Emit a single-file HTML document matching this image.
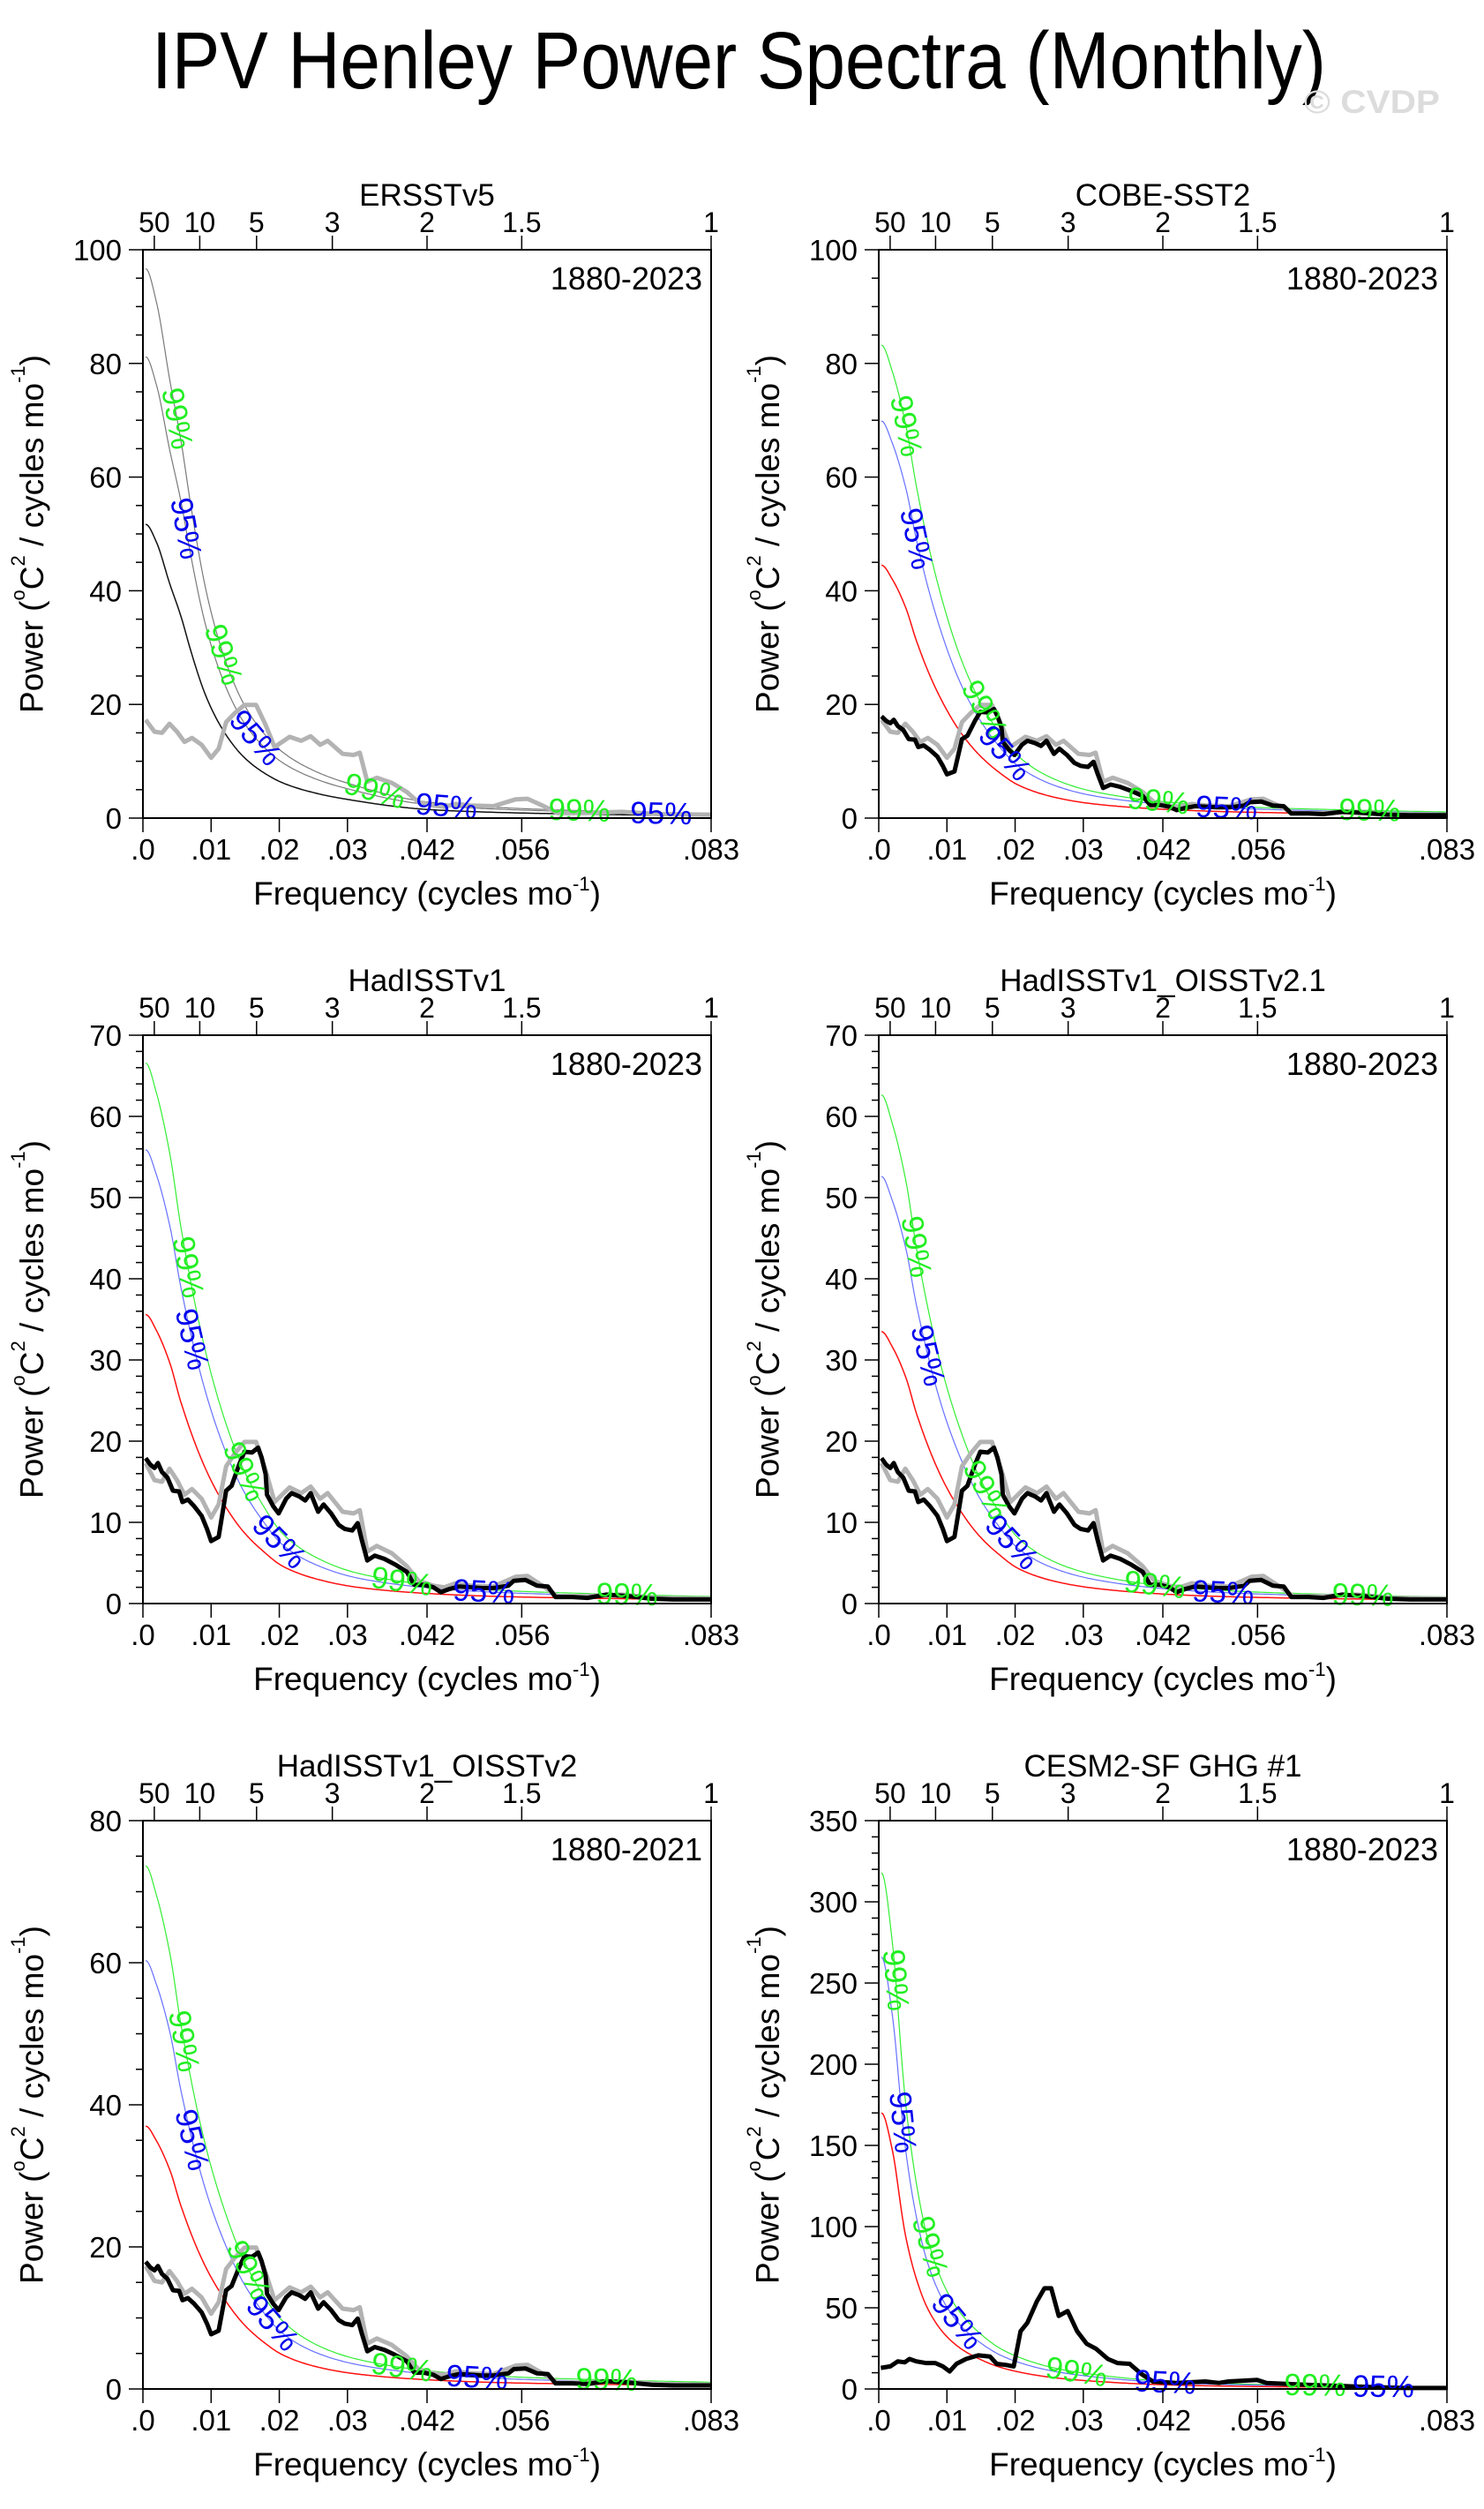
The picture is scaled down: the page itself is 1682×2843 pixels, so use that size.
<!DOCTYPE html>
<html><head><meta charset="utf-8">
<style>
html,body{margin:0;padding:0;background:#fff;}
svg{display:block;font-family:"Liberation Sans",Arial,sans-serif;}
</style></head>
<body>
<svg id="fig" xmlns="http://www.w3.org/2000/svg" width="1682" height="2843" viewBox="0 0 1682 2843">
<rect width="1682" height="2843" fill="#fff"/>
<text x="172" y="100" font-size="92" textLength="1331" lengthAdjust="spacingAndGlyphs">IPV Henley Power Spectra (Monthly)</text>
<text x="1478" y="128" font-size="37" font-weight="bold" fill="#dcdcdc" textLength="154" lengthAdjust="spacingAndGlyphs">© CVDP</text>
</svg>
<script>
// ---- data ----
const freqGrid = [0.0004,0.002,0.004,0.0055,0.007,0.0094,0.012,0.015,0.0177,0.0205,0.026,0.0315,0.0426,0.0536,0.07,0.0833];
const redP1 = [51.7,48.5,41,35.8,29.5,21,15,10.5,8,6.2,4.2,3.0,1.45,0.95,0.6,0.4];
const redP2 = [44.5,42,36.9,31.3,26.5,20.3,15.1,10.8,8.0,5.8,3.6,2.5,1.5,1.05,0.75,0.58];
const redP3 = [35.6,33.6,29.5,25,21.2,16.2,12.1,8.6,6.4,4.6,2.9,2.0,1.2,0.84,0.6,0.46];
const redP4 = [33.5,31.6,27.8,23.5,19.9,15.2,11.4,8.1,6.0,4.3,2.7,1.9,1.13,0.79,0.56,0.43];
const redP5 = [37,34.9,30.7,26,22,16.8,12.6,8.9,6.6,4.8,3.0,2.1,1.25,0.87,0.62,0.48];
const redP6 = [170,147,93,68,51,35,25,18,13.5,10.5,6.8,4.8,2.5,1.6,1.0,0.6];
const factor95 = [1.57,1.57,1.57,1.57,1.63,1.565];
const factor99 = [1.87,1.87,1.87,1.87,1.99,1.87];

const specFreqA = [.0004,.0011,.0017,.0022,.0028,.0036,.0044,.0053,.0058,.0066,.0075,.0086,.0094,.0100,.0111,.0122,.0130,.0141,.0149,.0160,.0169,.0174,.0180,.0182,.0191,.0199,.0210,.0218,.0229,.0238,.0246,.0257,.0265,.0276,.0287,.0296,.0307,.0315,.0321,.0329,.0340,.0354,.0370,.0387,.0398,.0412,.0426,.0437,.0450,.0464,.0481,.0497,.0514,.0536,.0544,.0561,.0578,.0594,.0605,.0630,.0652,.0680,.0713,.0746,.0779,.0813,.0833];
const blackSpec = [17.9,17.1,16.7,17.3,16.2,15.5,13.9,13.8,12.5,12.8,12.0,10.8,9.2,7.7,8.2,13.9,14.5,17.1,18.7,18.6,19.2,18.0,15.9,13.4,12.0,11.1,12.9,13.6,13.2,12.7,13.6,11.3,12.2,11.1,9.7,9.2,9.0,9.9,7.8,5.3,5.9,5.5,4.8,3.9,2.3,2.3,2.0,1.4,1.8,2.1,2.0,1.9,1.9,2.2,2.8,2.9,2.2,2.1,0.8,0.8,0.7,1.1,0.9,0.6,0.5,0.5,0.5];
const specFreqB = [.0004,.0017,.0028,.0039,.0050,.0061,.0072,.0086,.0100,.0111,.0122,.0135,.0149,.0166,.0180,.0193,.0215,.0232,.0246,.0260,.0271,.0293,.0309,.0318,.0329,.0343,.0365,.0387,.0404,.0426,.0442,.0459,.0481,.0514,.0547,.0564,.0586,.0608,.0647,.0702,.0757,.0833];
const graySpec = [17.3,15.2,15.0,16.6,15.2,13.4,14.1,12.9,10.6,12.2,16.9,18.5,19.9,19.9,16.4,12.5,14.3,13.6,14.4,12.9,13.6,11.3,11.1,11.5,6.4,7.1,6.2,4.6,2.8,2.2,2.0,2.5,2.2,2.1,3.3,3.4,2.2,0.9,0.9,1.1,0.7,0.6];
const ghgFreq = [.0003,.0017,.0028,.0038,.0045,.0055,.0069,.0083,.0094,.0104,.0114,.0128,.0146,.0163,.0173,.0187,.0198,.0208,.0218,.0232,.0243,.0253,.0264,.0277,.0291,.0305,.0319,.0336,.0350,.0368,.0385,.0402,.0437,.0479,.0499,.0513,.0555,.0569,.0631,.0700,.0770,.0833];
const ghgSpec = [13,13.9,17,16.4,18.5,17,16,16,13.9,10.8,15.5,18.5,20.7,20,15.5,14.8,13.9,35.5,40.8,54,62,62,45,48,35.5,27.8,24.7,18.5,16,15.5,9.3,4.6,3.7,4.6,3.7,4.6,5.6,3.7,2.5,1.5,0.6,0.6];

const topTickPeriods = [50,10,5,3,2,1.5,1];
const topTickLabels = ["50","10","5","3","2","1.5","1"];
const bottomTickValues = [0,0.01,0.02,0.03,1/24,1/18,1/12];
const bottomTickLabels = [".0",".01",".02",".03",".042",".056",".083"];
const panelTitles = ["ERSSTv5","COBE-SST2","HadISSTv1","HadISSTv1_OISSTv2.1","HadISSTv1_OISSTv2","CESM2-SF GHG #1"];
const panelYears = ["1880-2023","1880-2023","1880-2023","1880-2023","1880-2021","1880-2023"];
const yMaxes = [100,100,70,70,80,350];
const yMajor = [20,20,10,10,20,50];
const yMinor = [5,5,2,2,5,10];
const lab99 = [[.005,.0118,.034,.064],[.004,.0155,.041,.072],[.0066,.0149,.038,.071],[.0055,.0157,.0405,.071],[.006,.0155,.038,.068],[.0025,.0075,.029,.064]];
const lab95 = [[.0063,.0165,.0445,.076],[.0055,.0185,.051],[.0072,.020,.050],[.0072,.0195,.0505],[.0072,.019,.049],[.0035,.0115,.042,.074]];

// ---- drawing ----
const NS = "http://www.w3.org/2000/svg";
const svg = document.getElementById('fig');
const XMAX = 1/12;
const SIZE = 644;
const cols = [162,996], rows = [283,1173,2063];
const reds = [redP1,redP2,redP3,redP4,redP5,redP6];

function mk(tag, parent, attrs){
  const e = document.createElementNS(NS, tag);
  for (const k in attrs) e.setAttribute(k, attrs[k]);
  parent.appendChild(e);
  return e;
}
// monotone cubic (Fritsch-Carlson) interpolation in log space
function curveVal(xs, ys, x){
  const n = xs.length;
  const ly = ys.map(v=>Math.log(v));
  if (x <= xs[0]) return ys[0];
  if (x >= xs[n-1]) return ys[n-1];
  const d = [], m = [];
  for (let i=0;i<n-1;i++) d.push((ly[i+1]-ly[i])/(xs[i+1]-xs[i]));
  m[0] = 0; // flat start
  for (let i=1;i<n-1;i++){ m[i] = (d[i-1]*d[i] <= 0) ? 0 : 2/(1/d[i-1]+1/d[i]); }
  m[n-1] = d[n-2];
  let i = 0; while (x > xs[i+1]) i++;
  const h = xs[i+1]-xs[i], t = (x-xs[i])/h;
  const h00=2*t*t*t-3*t*t+1, h10=t*t*t-2*t*t+t, h01=-2*t*t*t+3*t*t, h11=t*t*t-t*t;
  return Math.exp(h00*ly[i]+h10*h*m[i]+h01*ly[i+1]+h11*h*m[i+1]);
}

for (let p=0;p<6;p++){
  const L = cols[p%2], T = rows[Math.floor(p/2)], R = L+SIZE, B = T+SIZE;
  const ymax = yMaxes[p];
  const sx = f => L + f/XMAX*SIZE;
  const sy = v => B - Math.min(v,ymax)/ymax*SIZE;
  const g = mk('g', svg, {});
  
  

  const ti = mk('text', g, {x:L+SIZE/2, y:T-50, 'font-size':35, 'text-anchor':'middle'});
  
  
  ti.textContent = panelTitles[p];
  const yr = mk('text', g, {x:R-10, y:T+45, 'font-size':36, 'text-anchor':'end'});
  
  
  yr.textContent = panelYears[p];

  const isP1 = p===0;
  const red = reds[p];
  const curves = [
    {f: factor99[p], color: isP1 ? '#7a7a7a' : '#33ee33', name:'99-percent-line', w:1.2},
    {f: factor95[p], color: isP1 ? '#7a7a7a' : '#6670ff', name:'95-percent-line', w:1.2},
    {f: 1, color: isP1 ? '#111' : '#ff1010', name:'red-noise-line', w:1.5}
  ];
  for (const c of curves){
    let d = '';
    for (let i=0;i<=400;i++){
      const f = freqGrid[0] + (XMAX-freqGrid[0])*i/400;
      const v = curveVal(freqGrid, red, f)*c.f;
      d += (i?'L':'M') + sx(f).toFixed(1) + ',' + sy(v).toFixed(1);
    }
    const pth = mk('path', g, {d:d, fill:'none', stroke:c.color, 'stroke-width':c.w});
    
    
  }

  const specs = [];
  if (p===5){
    specs.push({xs:ghgFreq, ys:ghgSpec, color:'#000', name:'spectrum-black'});
  } else {
    specs.push({xs:specFreqB, ys:graySpec, color:'#b3b3b3', name:'spectrum-gray'});
    if (p!==0) specs.push({xs:specFreqA, ys:blackSpec, color:'#000', name:'spectrum-black'});
  }
  for (const s of specs){
    let d='';
    s.xs.forEach((f,i)=>{ d += (i?'L':'M') + sx(f).toFixed(1) + ',' + sy(s.ys[i]).toFixed(1); });
    const pth = mk('path', g, {d:d, fill:'none', stroke:s.color, 'stroke-width':5, 'stroke-linejoin':'round'});
    
    
  }

  const labSets = [{list:lab99[p], fac:factor99[p], txt:'99%', color:'#22ee22'},{list:lab95[p], fac:factor95[p], txt:'95%', color:'#0000ee'}];
  for (const ls of labSets){
    for (const f of ls.list){
      const x = sx(f), y = sy(curveVal(freqGrid, red, f)*ls.fac);
      const df = 0.0008;
      const x1 = sx(f-df), y1 = sy(curveVal(freqGrid, red, f-df)*ls.fac);
      const x2 = sx(f+df), y2 = sy(curveVal(freqGrid, red, f+df)*ls.fac);
      const ang = Math.atan2(y2-y1, x2-x1)*180/Math.PI;
      const t = mk('text', g, {x:x, y:y, 'font-size':35, fill:ls.color, 'text-anchor':'middle', 'dominant-baseline':'central', transform:`rotate(${ang.toFixed(1)} ${x.toFixed(1)} ${y.toFixed(1)})`});
      
      
      t.textContent = ls.txt;
    }
  }

  const fr = mk('rect', g, {x:L, y:T, width:SIZE, height:SIZE, fill:'none', stroke:'#000', 'stroke-width':2});
  
  

  for (let v=0; v<=ymax+1e-9; v+=yMinor[p]){
    const major = Math.abs(v/yMajor[p]-Math.round(v/yMajor[p]))<1e-6;
    mk('line', g, {x1:L-(major?16:8), x2:L, y1:sy(v), y2:sy(v), stroke:'#000', 'stroke-width':1.5});
    if (major){
      const tl = mk('text', g, {x:L-24, y:sy(v)+12, 'font-size':33, 'text-anchor':'end'});
      
      
      tl.textContent = String(Math.round(v));
    }
  }
  bottomTickValues.forEach((v,i)=>{
    mk('line', g, {x1:sx(v), x2:sx(v), y1:B, y2:B+16, stroke:'#000', 'stroke-width':1.5});
    const tl = mk('text', g, {x:sx(v), y:B+47, 'font-size':33, 'text-anchor':'middle'});
    
    
    tl.textContent = bottomTickLabels[i];
  });
  topTickPeriods.forEach((per,i)=>{
    const x = sx(1/(12*per));
    mk('line', g, {x1:x, x2:x, y1:T-16, y2:T, stroke:'#000', 'stroke-width':1.5});
    const tl = mk('text', g, {x:x, y:T-20, 'font-size':32, 'text-anchor':'middle'});
    
    
    tl.textContent = topTickLabels[i];
  });

  const xt = mk('text', g, {x:L+SIZE/2, y:B+98, 'font-size':37, 'text-anchor':'middle'});
  
  
  xt.innerHTML = 'Frequency (cycles mo<tspan font-size="22" dy="-16">-1</tspan><tspan dy="16">)</tspan>';
  const cy = T+SIZE/2, cx = L-126;
  const yt = mk('text', g, {x:cx, y:cy, 'font-size':37, 'text-anchor':'middle', 'dominant-baseline':'central', transform:`rotate(-90 ${cx} ${cy})`});
  
  
  yt.innerHTML = 'Power (<tspan font-size="22" dy="-16">o</tspan><tspan dy="16">C</tspan><tspan font-size="22" dy="-16">2</tspan><tspan dy="16"> / cycles mo</tspan><tspan font-size="22" dy="-16">-1</tspan><tspan dy="16">)</tspan>';
}
</script>
</body></html>
